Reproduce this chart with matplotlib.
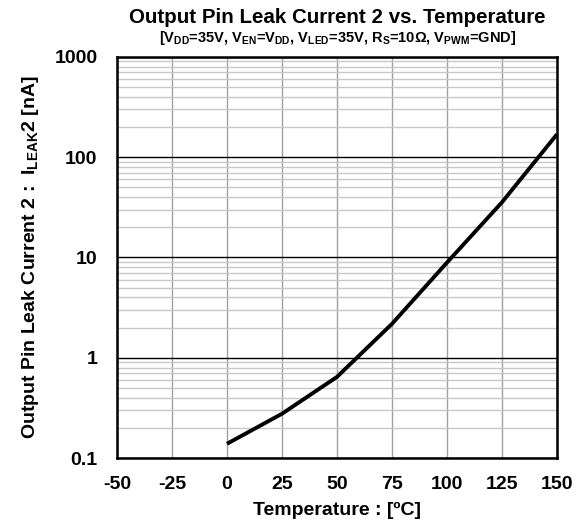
import matplotlib
matplotlib.use("Agg")
import matplotlib.pyplot as plt
from matplotlib.ticker import FixedLocator, LogLocator, NullFormatter

plt.rcParams['font.family'] = ['Liberation Sans', 'DejaVu Sans']
plt.rcParams['font.weight'] = 'bold'
plt.rcParams['axes.unicode_minus'] = False
plt.rcParams['mathtext.fontset'] = 'custom'
plt.rcParams['mathtext.rm'] = 'Liberation Sans:bold'
plt.rcParams['mathtext.it'] = 'Liberation Sans:bold'
plt.rcParams['mathtext.bf'] = 'Liberation Sans:bold'

# data
temps = [0, 25, 50, 75, 100, 125, 150]
leak_na = [0.139, 0.277, 0.645, 2.18, 8.9, 35.5, 169]

x_ticks = [-50, -25, 0, 25, 50, 75, 100, 125, 150]
y_ticks = [0.1, 1, 10, 100, 1000]
y_labels = ['0.1', '1', '10', '100', '1000']

fig = plt.figure(figsize=(5.82, 5.26), dpi=100)
ax = fig.add_axes([0.201, 0.129, 0.756, 0.763])

ax.set_yscale('log')
ax.set_xlim(-50, 150)
ax.set_ylim(0.1, 1000)

ax.xaxis.set_major_locator(FixedLocator(x_ticks))
ax.yaxis.set_major_locator(FixedLocator(y_ticks))
ax.set_yticklabels(y_labels)
ax.yaxis.set_minor_locator(LogLocator(base=10, subs=range(2, 10)))
ax.yaxis.set_minor_formatter(NullFormatter())

ax.grid(True, which='minor', axis='y', color='#c8c8c8', lw=1.0)
ax.grid(True, which='major', axis='y', color='black', lw=1.0)
ax.grid(True, which='major', axis='x', color='#a0a0a0', lw=1.0)
ax.set_axisbelow(True)

ax.plot(temps, leak_na, color='black', lw=2.8, solid_capstyle='butt', clip_on=False, zorder=3)

for s in ax.spines.values():
    s.set_linewidth(1.8)
    s.set_color('black')

ax.tick_params(which='both', length=0, labelsize=14)
ax.tick_params(axis='y', pad=14)
ax.tick_params(axis='x', pad=13)
for lbl in ax.get_xticklabels() + ax.get_yticklabels():
    lbl.set_fontweight('bold')

ax.set_xlabel('Temperature : [ºC]', fontsize=14, fontweight='bold', labelpad=6)
ax.set_ylabel(r'Output Pin Leak Current 2 :  I$_{LEAK}$2 [nA]', fontsize=14, fontweight='bold', labelpad=10)

fig.text(0.580, 0.956, 'Output Pin Leak Current 2 vs. Temperature',
         ha='center', va='baseline', fontsize=14.8, fontweight='bold')
fig.text(0.580, 0.920,
         r'[V$_{DD}$=35V, V$_{EN}$=V$_{DD}$, V$_{LED}$=35V, R$_{S}$=10Ω, V$_{PWM}$=GND]',
         ha='center', va='baseline', fontsize=10.5, fontweight='bold')

fig.savefig('out.png', dpi=100)
